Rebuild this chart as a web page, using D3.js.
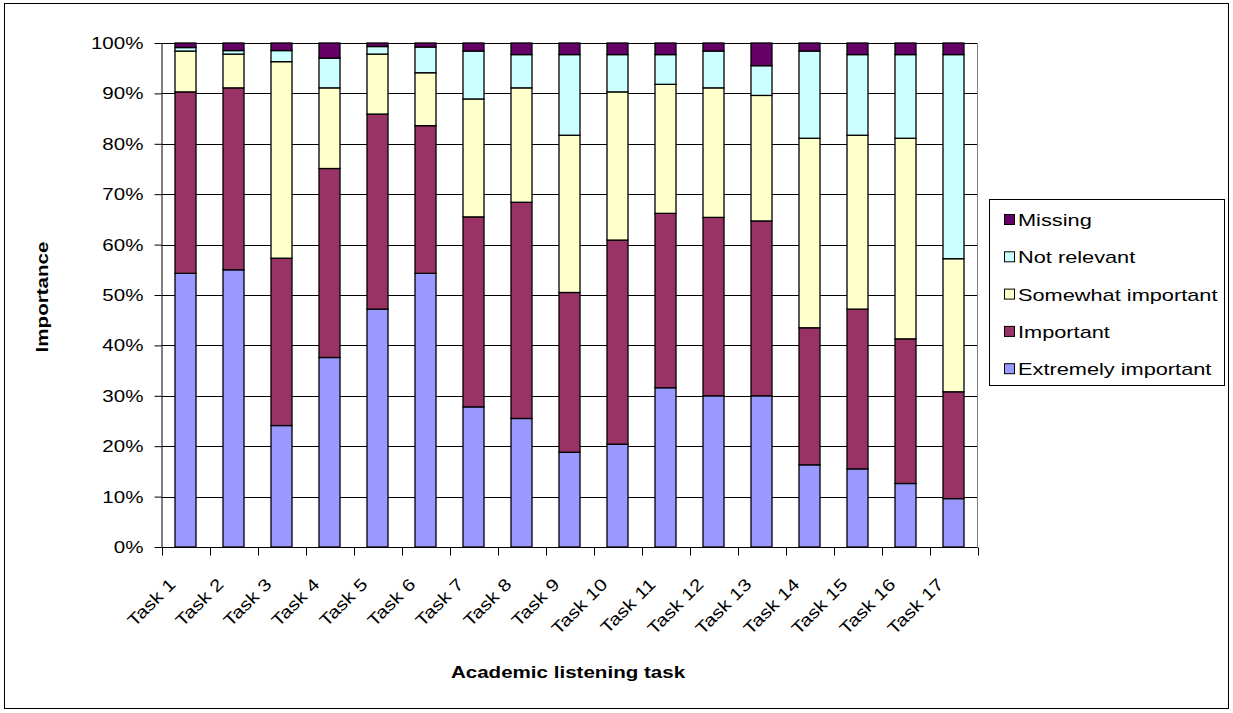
<!DOCTYPE html>
<html>
<head>
<meta charset="utf-8">
<script src="https://cdn.jsdelivr.net/npm/d3@7"></script>
<style>
  html, body { margin: 0; padding: 0; background: #fff; }
  svg { display: block; font-family: "Liberation Sans", Arial, sans-serif; }
</style>
</head>
<body>
<svg id="chart" width="1233" height="713"></svg>
<script>
// Academic listening tasks and rated importance shares (percent)
const tasks = ["Task 1","Task 2","Task 3","Task 4","Task 5","Task 6","Task 7","Task 8","Task 9",
  "Task 10","Task 11","Task 12","Task 13","Task 14","Task 15","Task 16","Task 17"];

const extremelyImportant = [54.3,55.0,24.1,37.6,47.2,54.3,27.8,25.5,18.8,20.4,31.6,30.0,30.0,16.3,15.5,12.6,9.6];
const important          = [36.0,36.1,33.2,37.5,38.7,29.3,37.7,42.9,31.7,40.5,34.6,35.4,34.7,27.2,31.7,28.7,21.2];
const somewhatImportant  = [8.1,6.7,39.0,16.0,11.9,10.5,23.4,22.7,31.2,29.4,25.6,25.7,24.9,37.6,34.5,39.8,26.4];
const notRelevant        = [0.7,0.7,2.2,5.9,1.5,5.1,9.5,6.6,16.0,7.4,5.9,7.3,5.9,17.3,16.0,16.6,40.5];
const missing            = [0.9,1.5,1.5,3.0,0.7,0.8,1.6,2.3,2.3,2.3,2.3,1.6,4.5,1.6,2.3,2.3,2.3];

const seriesNames = ["Extremely important","Important","Somewhat important","Not relevant","Missing"];
const seriesColors = ["#9999FF","#993366","#FFFFCC","#CCFFFF","#660066"];
const yTicks = [0,10,20,30,40,50,60,70,80,90,100];

// wide glyph rendering used for all chart text
const FONT_SIZE = 17;
const STRETCH = 1.21;
const LEGEND_STRETCH = 1.28;

// Rows for d3.stack
const seriesArrays = [extremelyImportant, important, somewhatImportant, notRelevant, missing];
const rows = tasks.map((t, i) => {
  const r = { task: t };
  seriesNames.forEach((s, k) => { r[s] = seriesArrays[k][i]; });
  return r;
});
const stacked = d3.stack().keys(seriesNames)(rows);

const svg = d3.select("#chart");

// outer chart border
svg.append("rect")
  .attr("x", 4.5).attr("y", 3.5).attr("width", 1224).attr("height", 705)
  .attr("fill", "none").attr("stroke", "#000").attr("stroke-width", 1);

const plot = { left: 161.5, right: 977.5, top: 43, bottom: 547 };

const x = d3.scaleBand().domain(tasks)
  .range([plot.left, plot.right])
  .paddingInner(0.5625).paddingOuter(0.28125);
const y = d3.scaleLinear().domain([0, 100]).range([plot.bottom, plot.top]);

// horizontal gridlines
svg.append("g").selectAll("line").data(yTicks).join("line")
  .attr("x1", plot.left).attr("x2", plot.right)
  .attr("y1", d => Math.round(y(d)) + 0.5).attr("y2", d => Math.round(y(d)) + 0.5)
  .attr("stroke", "#000").attr("stroke-width", 1);

// plot frame right edge
svg.append("line")
  .attr("x1", plot.right).attr("x2", plot.right)
  .attr("y1", plot.top + 0.5).attr("y2", plot.bottom + 0.5)
  .attr("stroke", "#808080").attr("stroke-width", 1);

// stacked bars
svg.append("g").selectAll("g").data(stacked).join("g")
  .attr("fill", (d, i) => seriesColors[i])
  .selectAll("rect").data(d => d).join("rect")
  .attr("x", d => x(d.data.task))
  .attr("width", x.bandwidth())
  .attr("y", d => y(d[1]))
  .attr("height", d => y(d[0]) - y(d[1]))
  .attr("stroke", "#000").attr("stroke-width", 1.3);

// y axis
const yAxis = d3.axisLeft(y).tickValues(yTicks).tickFormat(d => d + "%").tickSize(7).tickPadding(11);
const gy = svg.append("g").attr("transform", `translate(${plot.left},0)`).call(yAxis);
gy.select(".domain").attr("stroke", "#000").attr("d", `M0.5,${plot.top}V${plot.bottom + 0.5}`);
gy.selectAll(".tick line").attr("stroke", "#000");
gy.selectAll(".tick text")
  .attr("font-size", FONT_SIZE).attr("fill", "#000")
  .attr("font-family", "Liberation Sans, Arial, sans-serif")
  .attr("x", null)
  .attr("transform", `translate(-18,0) scale(${STRETCH},1)`);

// x axis: ticks at category boundaries
const gx = svg.append("g").attr("transform", `translate(0,${plot.bottom + 0.5})`);
gx.append("line").attr("x1", plot.left).attr("x2", plot.right).attr("stroke", "#000");
const bounds = d3.range(tasks.length + 1).map(i => plot.left + i * x.step());
gx.selectAll("line.tk").data(bounds).join("line").attr("class", "tk")
  .attr("x1", d => Math.round(d) + 0.5).attr("x2", d => Math.round(d) + 0.5)
  .attr("y1", 0).attr("y2", 8).attr("stroke", "#000");
gx.selectAll("text").data(tasks).join("text")
  .attr("transform", d => `translate(${x(d) + x.bandwidth() / 2 - 9},${38}) rotate(-45) scale(${STRETCH},1)`)
  .attr("text-anchor", "end")
  .attr("font-size", FONT_SIZE).attr("fill", "#000")
  .text(d => d);

// axis titles
svg.append("text")
  .attr("transform", `translate(568,678) scale(${STRETCH},1)`)
  .attr("text-anchor", "middle").attr("font-size", FONT_SIZE).attr("font-weight", "bold")
  .text("Academic listening task");
svg.append("text")
  .attr("transform", `translate(48,297) rotate(-90) scale(${STRETCH},1)`)
  .attr("text-anchor", "middle").attr("font-size", FONT_SIZE).attr("font-weight", "bold")
  .text("Importance");

// legend (top entry is the last series)
const legend = svg.append("g");
legend.append("rect")
  .attr("x", 989.5).attr("y", 199.5).attr("width", 235).attr("height", 186)
  .attr("fill", "#fff").attr("stroke", "#000").attr("stroke-width", 1);
const legendOrder = seriesNames.slice().reverse();
const li = legend.selectAll("g").data(legendOrder).join("g")
  .attr("transform", (d, i) => `translate(1004,${220 + i * 37.3})`);
li.append("rect")
  .attr("x", 0.5).attr("y", -5.5).attr("width", 10).attr("height", 10)
  .attr("fill", d => seriesColors[seriesNames.indexOf(d)])
  .attr("stroke", "#000").attr("stroke-width", 1);
li.append("text")
  .attr("transform", `translate(14,0) scale(${LEGEND_STRETCH},1)`)
  .attr("dy", "0.35em")
  .attr("font-size", FONT_SIZE).attr("fill", "#000")
  .text(d => d);
</script>
</body>
</html>
